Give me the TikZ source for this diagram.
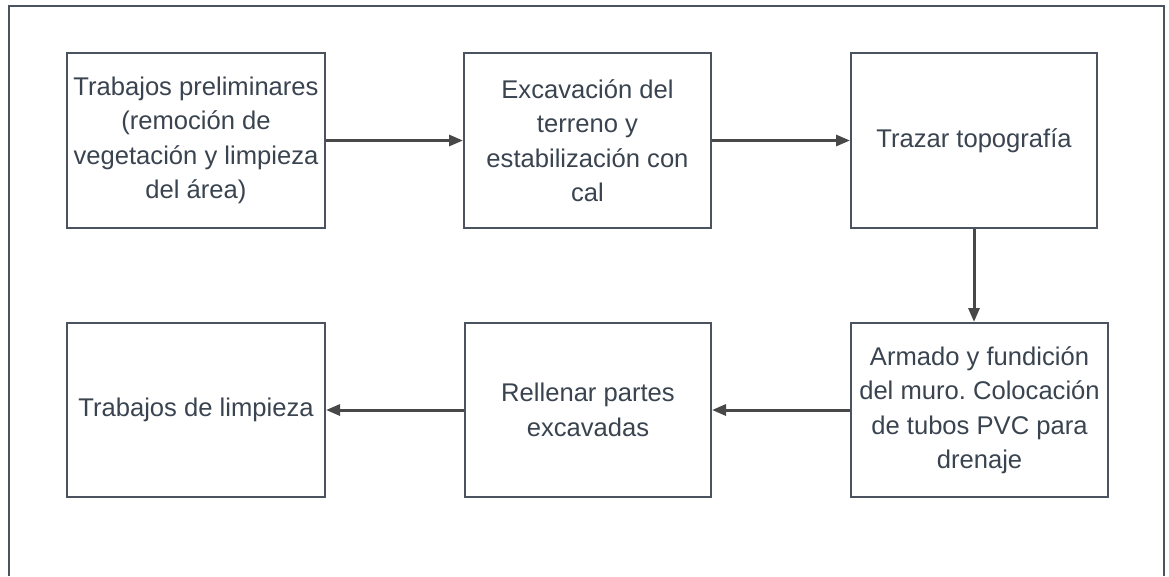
\documentclass[tikz,border=0pt]{standalone}
\usepackage{fontspec}
\setmainfont{Liberation Sans}
\frenchspacing
\usetikzlibrary{arrows.meta,positioning}
\definecolor{EdgeGrey}{RGB}{74,83,95}
\definecolor{TextGrey}{RGB}{58,68,80}
\definecolor{ArrowGrey}{RGB}{72,72,72}

\tikzset{
    stepbox/.style={draw=EdgeGrey, line width=2pt, fill=white, align=center,
        text=TextGrey, inner sep=0pt,
        font=\fontsize{25.6}{34.5}\selectfont},
    flow/.style={draw=ArrowGrey, line width=3pt,
        -{Triangle[length=14pt,width=11pt]}}
}

\begin{document}
\begin{tikzpicture}[x=1pt, y=-1pt]
    % Page size and outer frame (open at the bottom)
    \useasboundingbox (0,0) rectangle (1169,576);
    \draw[EdgeGrey, line width=2pt] (9,576) -- (9,6) -- (1164,6) -- (1164,576);

    % Top row
    \node[stepbox, minimum width=258pt, minimum height=175pt] (prelim) at (196,140.5)
        {Trabajos preliminares\\(remoción de\\vegetación y limpieza\\del área)};
    \node[stepbox, minimum width=247pt, minimum height=175pt] (excav) at (587.5,140.5)
        {Excavación del\\terreno y\\estabilización con\\cal};
    \node[stepbox, minimum width=246pt, minimum height=175pt] (topo) at (974,140.5)
        {Trazar topografía};

    % Bottom row
    \node[stepbox, minimum width=257pt, minimum height=174pt] (armado) at (979.5,410)
        {Armado y fundición\\del muro. Colocación\\de tubos PVC para\\drenaje};
    \node[stepbox, minimum width=246pt, minimum height=174pt] (relleno) at (588,410)
        {Rellenar partes\\excavadas};
    \node[stepbox, minimum width=258pt, minimum height=174pt] (limpieza) at (196,410)
        {Trabajos de limpieza};

    % Connectors
    \draw[flow] (prelim) -- (excav);
    \draw[flow] (excav) -- (topo);
    \draw[flow] (topo.south) -- (topo.south |- armado.north);
    \draw[flow] (armado) -- (relleno);
    \draw[flow] (relleno) -- (limpieza);
\end{tikzpicture}
\end{document}
